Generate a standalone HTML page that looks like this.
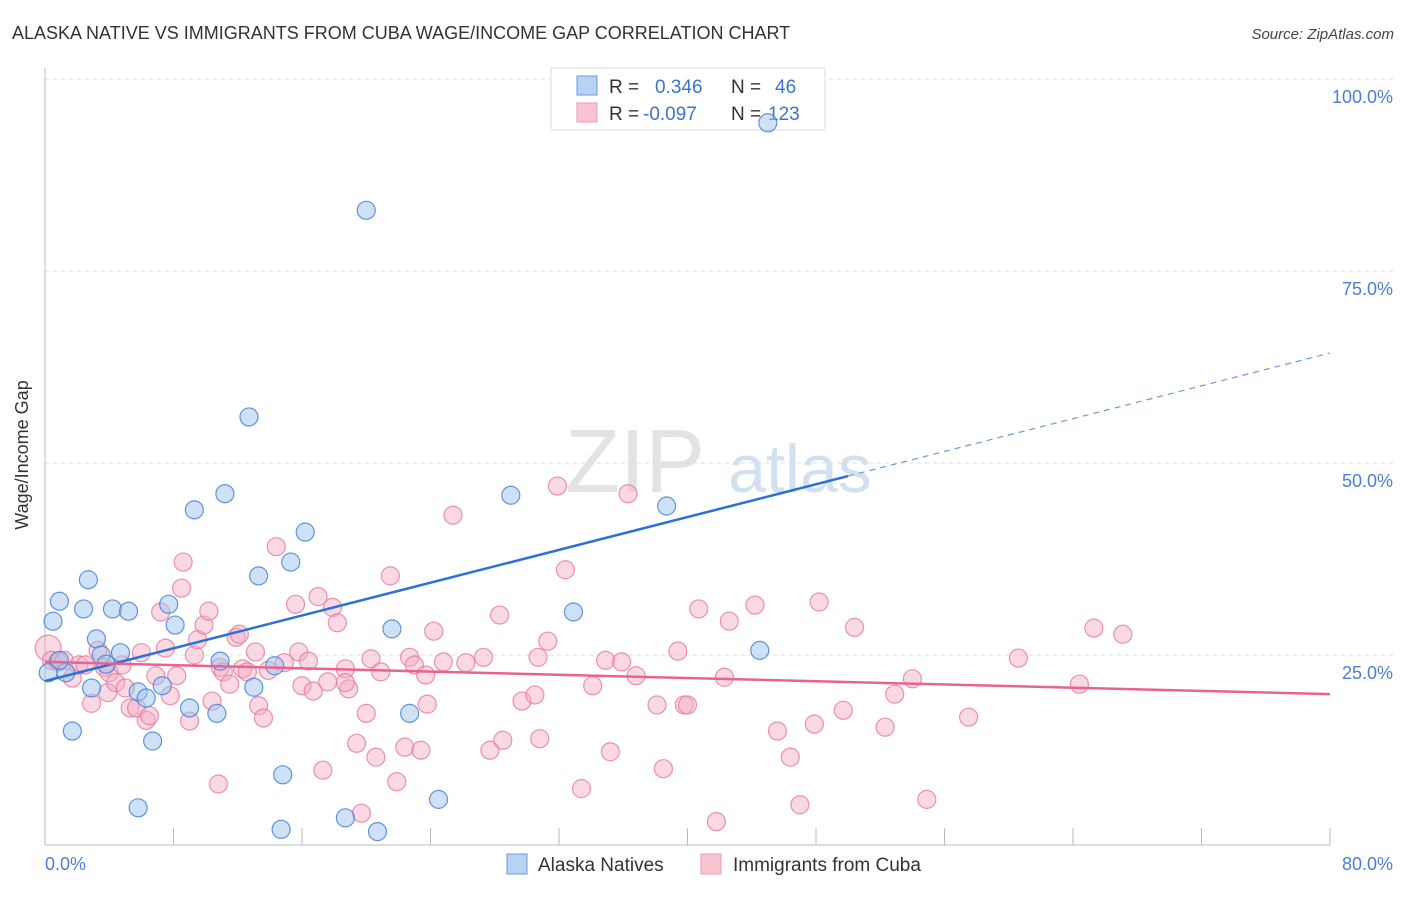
<!DOCTYPE html>
<html><head><meta charset="utf-8"><style>
body{margin:0;background:#fff;font-family:"Liberation Sans",sans-serif}
svg text{font-family:"Liberation Sans",sans-serif}
</style></head><body>
<svg id="chart" width="1406" height="892" xmlns="http://www.w3.org/2000/svg">
<text x="12" y="39" font-size="18" fill="#333">ALASKA NATIVE VS IMMIGRANTS FROM CUBA WAGE/INCOME GAP CORRELATION CHART</text>
<text x="1394" y="39" font-size="15" font-style="italic" fill="#444" text-anchor="end">Source: ZipAtlas.com</text>
<g><text x="635" y="492" font-size="90" font-family="Liberation Serif" fill="#ddd" text-anchor="middle" opacity="0.8">ZIP</text><text x="800" y="492" font-size="68" fill="#c8daf0" text-anchor="middle" opacity="0.8">atlas</text></g>
<g id="grid"></g>
<g id="axes"></g>
<g>
<rect x="551" y="68" width="274" height="62" fill="#fff" stroke="#ddd"/>
<rect x="577" y="76" width="20" height="19" fill="#b8d2f4" stroke="#6a9ae0"/>
<rect x="577" y="103" width="20" height="19" fill="#f8c4d2" stroke="#eb9ab0"/>
<text x="609" y="93" font-size="19" fill="#333">R = </text><text x="655" y="93" font-size="19" fill="#3a74cc">0.346</text>
<text x="731" y="93" font-size="19" fill="#333">N = </text><text x="775" y="93" font-size="19" fill="#3a74cc">46</text>
<text x="609" y="120" font-size="19" fill="#333">R = </text><text x="643" y="120" font-size="19" fill="#3a74cc">-0.097</text>
<text x="731" y="120" font-size="19" fill="#333">N = </text><text x="768" y="120" font-size="19" fill="#3a74cc">123</text>
</g>
<g id="pts"></g>
<g id="lines"></g>
<text x="28" y="455" font-size="18" fill="#333" text-anchor="middle" transform="rotate(-90 28 455)">Wage/Income Gap</text>
<text x="45" y="870" font-size="18" fill="#4a7fd4">0.0%</text>
<text x="1393" y="870" font-size="18" fill="#4a7fd4" text-anchor="end">80.0%</text>
<g>
<rect x="507" y="854" width="20" height="20" fill="#b8d2f4" stroke="#6a9ae0"/>
<text x="538" y="871" font-size="19" fill="#333">Alaska Natives</text>
<rect x="701" y="854" width="20" height="20" fill="#f8c4d2" stroke="#eb9ab0"/>
<text x="733" y="871" font-size="19" fill="#333">Immigrants from Cuba</text>
</g>
</svg>
<script>
const blueX=[0.2,0.5,0.9,1.7,1.3,2.4,2.7,2.9,3.2,3.5,3.8,4.2,4.7,5.2,5.8,5.8,6.3,6.7,7.3,7.7,8.1,9.0,9.3,10.7,10.9,11.2,12.7,13.0,13.3,14.3,14.8,14.7,15.3,16.2,18.7,20.0,20.7,21.6,22.7,24.5,29.0,32.9,38.7,44.5,45.0,0.9];
const blueY=[22.7,29.4,32.0,15.1,22.7,31.0,34.8,20.7,27.1,25.0,23.8,31.0,25.3,30.7,5.1,20.2,19.4,13.8,21.0,31.6,28.9,18.1,43.9,17.4,24.2,46.0,56.0,20.8,35.3,23.6,9.4,2.3,37.1,41.0,3.8,82.9,2.0,28.4,17.4,6.2,45.8,30.6,44.4,25.6,94.3,24.3];
const pinkX=[0.2,0.4,0.8,1.2,1.7,2.1,2.5,2.9,3.3,3.7,3.9,4.0,4.4,4.8,5.0,5.3,5.7,6.0,6.3,6.5,6.9,7.2,7.5,7.8,8.2,8.6,8.5,9.0,9.3,9.5,9.9,10.2,10.4,10.8,10.9,11.1,11.5,11.9,12.1,12.3,12.6,13.1,13.3,13.6,13.9,14.4,14.9,15.6,15.8,16.0,16.4,16.7,17.0,17.3,17.6,17.9,18.2,18.7,18.9,18.7,19.4,19.7,20.0,20.3,20.6,20.9,21.5,21.9,22.4,22.7,23.0,23.4,23.7,23.8,24.2,24.8,25.4,26.2,27.3,27.7,28.3,28.5,29.7,30.5,30.8,30.7,31.3,31.9,32.4,33.4,34.1,34.9,35.2,35.9,36.3,36.8,38.1,38.5,39.4,39.8,40.0,40.7,41.8,42.3,42.6,44.2,45.6,46.4,47.0,47.9,48.2,49.7,50.4,52.3,52.9,54.0,54.9,57.5,60.6,64.4,65.3,67.1];
const pinkY=[25.9,24.3,24.1,24.3,22.0,23.7,23.7,18.7,25.6,23.4,20.1,22.7,21.4,23.7,20.7,18.1,18.1,25.3,16.5,17.1,22.3,30.6,25.9,19.7,22.3,37.1,33.7,16.4,25.0,27.0,28.9,30.7,19.0,8.2,23.4,22.8,21.2,27.3,27.7,23.2,22.8,25.4,18.4,16.8,23.0,39.1,24.0,31.6,25.4,21.0,24.2,20.3,32.6,10.0,21.5,31.2,29.2,23.2,20.6,21.4,13.5,4.4,17.4,24.5,11.7,22.8,35.3,8.5,13.0,24.7,23.7,12.6,22.4,18.6,28.1,24.1,43.2,24.0,24.7,12.6,30.2,13.9,19.0,19.8,14.1,24.7,26.8,47.0,36.1,7.6,21.0,24.3,12.4,24.1,46.0,22.3,18.5,10.2,25.5,18.5,18.5,31.0,3.3,22.1,29.4,31.5,15.1,11.7,5.5,16.0,31.9,17.8,28.6,15.6,19.9,21.9,6.2,16.9,24.6,21.2,28.5,27.7];
const yTicks=[25,50,75,100];
const yTickLabels=["25.0%","50.0%","75.0%","100.0%"];
const xTicks=[0,8,16,24,32,40,48,56,64,72,80];
const blueTrend=[21.6,0.534,50]; // intercept, slope, solid end
const pinkTrend=[24.1,19.9];
const NS="http://www.w3.org/2000/svg";
const X=v=>45+v/80*1285, Y=v=>847-v*7.68;
function mk(t,a,p){const e=document.createElementNS(NS,t);for(const k in a)e.setAttribute(k,a[k]);p.appendChild(e);return e;}
const grid=document.getElementById('grid'),axes=document.getElementById('axes'),pts=document.getElementById('pts'),lines=document.getElementById('lines'),svg=document.getElementById('chart');
yTicks.forEach((t,i)=>{const l=mk('line',{x1:45,x2:1393,y1:Y(t),y2:Y(t),stroke:'#ddd','stroke-dasharray':'4,4'},grid);


const tx=mk('text',{x:1393,y:Y(t)+24,'font-size':18,fill:'#4a7fd4','text-anchor':'end'},svg);tx.textContent=yTickLabels[i];

});
const ax=mk('line',{x1:45,x2:45,y1:68,y2:845,stroke:'#bbb'},axes);


const bx=mk('line',{x1:45,x2:1330,y1:845,y2:845,stroke:'#bbb'},axes);


xTicks.forEach(t=>{const l=mk('line',{x1:X(t),x2:X(t),y1:828,y2:845,stroke:'#bbb'},axes);

});
pinkX.forEach((x,i)=>{const c=mk('circle',{cx:X(x),cy:Y(pinkY[i]),r:i==0?13:9,fill:'rgba(245,170,195,0.45)',stroke:'rgba(230,120,155,0.8)','stroke-width':1.2},pts);

});
blueX.forEach((x,i)=>{const c=mk('circle',{cx:X(x),cy:Y(blueY[i]),r:9,fill:'rgba(160,195,238,0.5)',stroke:'rgba(70,130,215,0.85)','stroke-width':1.2},pts);

});
const b1=mk('line',{x1:X(0),y1:Y(blueTrend[0]),x2:X(blueTrend[2]),y2:Y(blueTrend[0]+blueTrend[1]*blueTrend[2]),stroke:'#2a72d6','stroke-width':2.5},lines);


const b2=mk('line',{x1:X(blueTrend[2]),y1:Y(blueTrend[0]+blueTrend[1]*blueTrend[2]),x2:X(80),y2:Y(blueTrend[0]+blueTrend[1]*80),stroke:'#6a9ae0','stroke-width':1.2,'stroke-dasharray':'6,5'},lines);


const p1=mk('line',{x1:X(0),y1:Y(pinkTrend[0]),x2:X(80),y2:Y(pinkTrend[1]),stroke:'#e8638f','stroke-width':2.5},lines);


</script>
</body></html>
